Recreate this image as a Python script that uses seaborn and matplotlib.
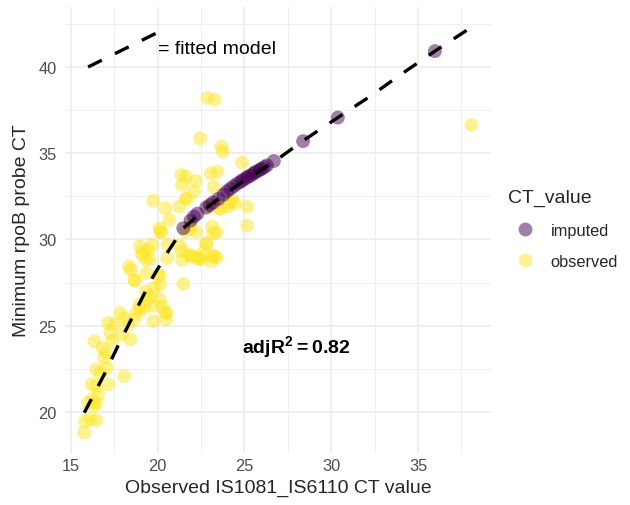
import matplotlib
matplotlib.use("Agg")
import matplotlib.pyplot as plt
from matplotlib.lines import Line2D
import numpy as np
import pandas as pd
import seaborn as sns

# Observed IS1081_IS6110 CT vs minimum rpoB probe CT (observed samples)
obs_x = [22.86, 23.29, 22.45, 23.67, 23.76, 24.86, 38.08, 21.37, 21.64, 21.41,
         22.20, 23.07, 23.44, 23.25, 22.10, 21.64, 19.76, 21.25, 20.45, 24.29,
         24.45, 25.16, 23.60, 24.06, 25.16, 23.14, 23.21, 20.68, 20.10, 20.15,
         21.60, 22.22, 21.87, 22.80, 21.41, 21.76, 22.03, 22.40, 23.25, 23.09,
         21.41, 21.48, 20.61, 20.56, 18.99, 19.69, 19.46, 19.10, 19.34, 18.36,
         18.47, 18.66, 19.34, 20.03, 20.15, 19.34, 19.57, 19.80, 18.95, 19.23,
         18.77, 20.15, 20.26, 20.45, 20.49, 19.76, 17.85, 18.08, 18.31, 18.66,
         17.97, 18.43, 17.16, 17.51, 17.28, 17.39, 16.36, 16.82, 17.05, 16.93,
         18.08, 17.05, 16.47, 16.70, 17.16, 16.20, 16.47, 16.59, 16.24, 16.47,
         16.01, 16.36, 15.83, 16.13, 16.47, 15.78, 19.44, 18.98, 19.73, 20.52,
         22.53, 23.18, 22.82, 23.40, 19.15, 19.55, 18.69, 20.13, 22.34, 21.96,
         22.63, 23.40, 21.28, 23.00, 23.30, 24.16, 23.59, 21.86, 20.23, 21.67]
obs_y = [38.21, 38.11, 35.86, 35.38, 35.09, 34.45, 36.63, 33.74, 33.64, 33.16,
         33.39, 33.83, 33.93, 33.06, 32.77, 32.39, 32.24, 31.91, 31.81, 32.29,
         32.10, 31.91, 31.81, 31.91, 30.81, 30.75, 30.37, 31.14, 30.65, 30.46,
         30.46, 30.46, 30.85, 29.79, 29.31, 29.11, 29.02, 28.92, 29.02, 28.73,
         28.82, 27.42, 29.69, 28.92, 29.60, 29.69, 29.40, 29.11, 28.82, 28.44,
         28.25, 27.67, 28.05, 27.96, 27.38, 26.99, 26.71, 27.19, 26.22, 26.03,
         25.74, 26.51, 26.13, 25.74, 25.36, 25.26, 25.74, 25.45, 25.07, 25.36,
         24.49, 24.20, 25.16, 25.07, 24.59, 24.10, 24.10, 23.72, 23.43, 23.14,
         22.08, 22.56, 22.47, 22.27, 21.60, 21.60, 21.50, 21.02, 20.73, 20.54,
         20.54, 20.35, 19.48, 19.58, 19.52, 18.81, 26.55, 25.97, 26.16, 25.78,
         28.87, 29.06, 29.74, 30.42, 29.28, 28.87, 27.61, 27.90, 28.87, 29.06,
         29.26, 28.97, 29.64, 31.92, 32.10, 32.16, 31.77, 30.60, 30.42, 32.35]

# Imputed samples (placed on the fitted curve)
imp_x = [21.48, 21.90, 22.10, 22.30, 22.80, 23.00, 23.20, 23.50, 23.80, 24.00,
         24.20, 24.40, 24.60, 24.80, 24.90, 25.10, 25.20, 25.35, 25.50, 25.60,
         25.75, 25.90, 26.00, 26.15, 26.30, 26.70, 28.38, 30.38, 35.97]
imp_y = [30.65, 31.10, 31.33, 31.50, 31.85, 32.00, 32.15, 32.35, 32.60, 32.80,
         32.95, 33.10, 33.25, 33.35, 33.45, 33.55, 33.65, 33.70, 33.80, 33.90,
         33.95, 34.05, 34.10, 34.20, 34.30, 34.55, 35.70, 37.07, 40.92]

# Fitted model curve
fit_x = [15.78, 16.93, 17.85, 18.77, 19.69, 20.61, 21.48, 22.90, 24.75, 26.70,
         28.43, 30.38, 32.33, 33.94, 35.97, 38.08]
fit_y = [19.96, 22.18, 24.10, 25.93, 27.76, 29.31, 30.65, 31.90, 33.26, 34.50,
         35.76, 37.07, 38.36, 39.52, 40.92, 42.31]

# Legend-style key segment and annotations
key_x = [16.0, 20.0]
key_y = [40.0, 42.0]
key_label = "= fitted model"
adj_r2 = 0.82

groups = ["imputed", "observed"]
colors = {"imputed": "#440154", "observed": "#FDE725"}

df = pd.DataFrame({
    "x": obs_x + imp_x,
    "y": obs_y + imp_y,
    "CT_value": ["observed"] * len(obs_x) + ["imputed"] * len(imp_x),
})
fit = pd.DataFrame({"x": fit_x, "y": fit_y})

sns.set_theme(style="whitegrid")
plt.rcParams["font.family"] = ["Liberation Sans", "DejaVu Sans"]
plt.rcParams["mathtext.fontset"] = "custom"
plt.rcParams["mathtext.bf"] = "Liberation Sans:bold"
plt.rcParams["mathtext.rm"] = "Liberation Sans"

fig = plt.figure(figsize=(6.3, 5.06), dpi=100)
ax = fig.add_axes([65 / 630, 1 - 453.7 / 506, (491 - 65) / 630, (453.7 - 7.8) / 506])

dash = (0, (4.6, 4.4))
sns.scatterplot(data=df, x="x", y="y", hue="CT_value", hue_order=groups,
                palette=colors, s=100, alpha=0.5, linewidth=0, legend=False,
                ax=ax, zorder=3)
sns.lineplot(data=fit, x="x", y="y", color="black", linewidth=2.4,
             linestyle=dash, ax=ax, zorder=4, sort=False)
ax.plot(key_x, key_y, color="black", linewidth=2.4, linestyle=dash, zorder=4)
ax.text(key_x[1], 41.05, key_label, ha="left", va="center", fontsize=14, color="black")
ax.text(28.0, 23.85, r"$\mathbf{adjR^2 = %.2f}$" % adj_r2, ha="center", va="center",
        fontsize=14, color="black")

ax.set_xlim(14.67, 39.2)
ax.set_ylim(17.64, 43.49)
ax.set_xticks([15, 20, 25, 30, 35])
ax.set_yticks([20, 25, 30, 35, 40])
ax.set_xticks([17.5, 22.5, 27.5, 32.5, 37.5], minor=True)
ax.set_yticks([22.5, 27.5, 32.5, 37.5, 42.5], minor=True)
ax.set_facecolor("white")
ax.grid(which="major", color="#EBEBEB", linewidth=1.1)
ax.grid(which="minor", color="#EBEBEB", linewidth=0.55)
for sp in ax.spines.values():
    sp.set_visible(False)
ax.tick_params(which="both", length=0, labelsize=11.8, labelcolor="#4D4D4D")
ax.tick_params(axis="x", pad=4)
ax.tick_params(axis="y", pad=6)
ax.set_xlabel("Observed IS1081_IS6110 CT value", fontsize=14, labelpad=4)
ax.set_ylabel("Minimum rpoB probe CT", fontsize=14, labelpad=6)

handles = [Line2D([], [], marker="o", linestyle="", markersize=10,
                  markerfacecolor=colors[g], markeredgewidth=0, alpha=0.5)
           for g in groups]
fig.legend(handles, groups, title="CT_value", loc="upper left",
           bbox_to_anchor=(500 / 630, 1 - 182 / 506), frameon=False,
           fontsize=11.8, title_fontsize=14, labelspacing=1.0,
           handletextpad=0.6, borderpad=0, alignment="left")

fig.savefig("out.png", dpi=100)
